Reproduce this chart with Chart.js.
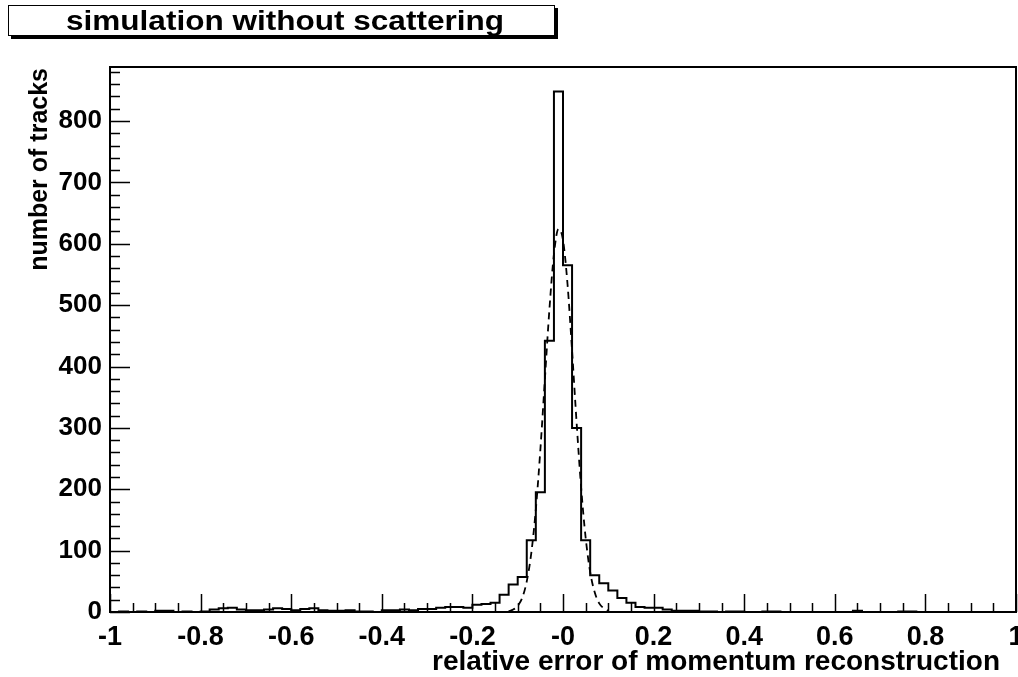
<!DOCTYPE html>
<html>
<head>
<meta charset="utf-8">
<script src="https://cdn.jsdelivr.net/npm/chart.js@4/dist/chart.umd.min.js"></script>
<style>
  html, body { margin: 0; padding: 0; background: #fff; }
  #c { display: block; }
</style>
</head>
<body>
<canvas id="c" width="1018" height="677"></canvas>
<script>
// ---------------- data ----------------
const chartTitle = 'simulation without scattering';
const xAxisTitle = 'relative error of momentum reconstruction';
const yAxisTitle = 'number of tracks';

// histogram: 100 bins of width 0.02 from -1 to 1
const binStart = -1;
const binWidth = 0.02;
const counts = [
  0, 1, 0, 1, 0, 2, 2, 0, 1, 0,
  1, 4, 6, 7, 4, 3, 3, 4, 6, 5,
  3, 5, 6, 3, 2, 2, 3, 1, 1, 0,
  3, 3, 4, 3, 5, 5, 7, 8, 8, 7,
  12, 13, 15, 28, 45, 57, 117, 195, 442, 848,
  565, 300, 117, 60, 47, 35, 23, 15, 8, 7,
  7, 4, 2, 2, 2, 1, 1, 0, 1, 1,
  0, 0, 1, 1, 0, 0, 0, 0, 0, 0,
  0, 0, 2, 0, 0, 0, 0, 1, 1, 0,
  0, 0, 0, 0, 0, 0, 0, 0, 0, 0
];

// dashed fit curve
const fitX = [-0.12, -0.11, -0.10, -0.09, -0.08, -0.07, -0.06, -0.05, -0.04, -0.03, -0.02, -0.01,
              0.00, 0.01, 0.02, 0.03, 0.04, 0.05, 0.06, 0.07, 0.08, 0.09, 0.10];
const fitY = [1, 4, 10, 23, 50, 96, 167, 264, 379, 493, 583, 624,
              606, 534, 426, 309, 203, 121, 65, 32, 14, 6, 2];

// axis ticks
const xTickValues = [-1, -0.8, -0.6, -0.4, -0.2, 0, 0.2, 0.4, 0.6, 0.8, 1];
const xTickLabels = ['-1', '-0.8', '-0.6', '-0.4', '-0.2', '-0', '0.2', '0.4', '0.6', '0.8', '1'];
const yTickValues = [0, 100, 200, 300, 400, 500, 600, 700, 800];
const yTickLabels = ['0', '100', '200', '300', '400', '500', '600', '700', '800'];

// ---------------- build ----------------
const histPoints = counts.map((v, i) => ({ x: binStart + i * binWidth, y: v }));
histPoints.push({ x: binStart + counts.length * binWidth, y: counts[counts.length - 1] });
const fitPoints = fitX.map((x, i) => ({ x: x, y: fitY[i] }));

const FONT = "'Liberation Sans', Arial, Helvetica, sans-serif";

const decor = {
  id: 'decor',
  afterDatasetsDraw(chart) {
    const ctx = chart.ctx;
    const a = chart.chartArea;
    const xs = chart.scales.x, ys = chart.scales.y;
    ctx.save();
    ctx.strokeStyle = '#000';
    ctx.lineWidth = 1.5;
    ctx.beginPath();
    // x ticks (inside, upward)
    for (let k = 0; k <= 40; k++) {
      const v = -1 + k * 0.05;
      const px = Math.round(xs.getPixelForValue(v)) + 0.5;
      const len = (k % 4 === 0) ? 18 : 9;
      ctx.moveTo(px, a.bottom);
      ctx.lineTo(px, a.bottom - len);
    }
    // y ticks (inside, rightward)
    for (let k = 0; k <= 44; k++) {
      const v = k * 20;
      if (v > ys.max) break;
      const py = Math.round(ys.getPixelForValue(v)) + 0.5;
      const len = (k % 5 === 0) ? 20 : 10;
      ctx.moveTo(a.left, py);
      ctx.lineTo(a.left + len, py);
    }
    ctx.stroke();
    // frame
    ctx.lineWidth = 2;
    ctx.strokeRect(a.left, a.top, a.right - a.left, a.bottom - a.top);
    ctx.restore();
  },
  afterDraw(chart) {
    const ctx = chart.ctx;
    ctx.save();
    // title box with shadow
    ctx.fillStyle = '#000';
    ctx.fillRect(11, 36, 547, 3);
    ctx.fillRect(555, 8, 3, 31);
    ctx.fillStyle = '#fff';
    ctx.fillRect(8, 5, 547, 31);
    ctx.strokeStyle = '#000';
    ctx.lineWidth = 1;
    ctx.strokeRect(8.5, 5.5, 546, 30);
    ctx.fillStyle = '#000';
    ctx.font = 'bold 27px ' + FONT;
    ctx.textAlign = 'center';
    ctx.textBaseline = 'alphabetic';
    const w = ctx.measureText(chartTitle).width;
    const sx = 438 / w;
    ctx.save();
    ctx.translate(285, 30);
    ctx.scale(sx, 1);
    ctx.fillText(chartTitle, 0, 0);
    ctx.restore();
    // x axis title
    ctx.font = 'bold 28px ' + FONT;
    ctx.textAlign = 'right';
    ctx.fillText(xAxisTitle, 1000, 670);
    // y axis title
    ctx.translate(47, 68);
    ctx.rotate(-Math.PI / 2);
    ctx.font = 'bold 25px ' + FONT;
    ctx.textAlign = 'right';
    ctx.fillText(yAxisTitle, 0, 0);
    ctx.restore();
  }
};

new Chart(document.getElementById('c'), {
  type: 'scatter',
  data: {
    datasets: [
      {
        label: 'tracks',
        data: histPoints,
        showLine: true,
        stepped: 'before',
        borderColor: '#000',
        borderWidth: 2,
        pointRadius: 0,
        fill: false
      },
      {
        label: 'fit',
        data: fitPoints,
        showLine: true,
        borderColor: '#000',
        borderWidth: 1.8,
        borderDash: [7, 5],
        cubicInterpolationMode: 'monotone',
        pointRadius: 0,
        fill: false
      }
    ]
  },
  options: {
    responsive: false,
    animation: false,
    devicePixelRatio: 1,
    layout: { padding: { left: 0, top: 67, right: 2, bottom: 0 } },
    plugins: {
      legend: { display: false },
      tooltip: { enabled: false },
      title: { display: false }
    },
    scales: {
      x: {
        type: 'linear',
        min: -1,
        max: 1,
        grid: { display: false, drawTicks: false },
        border: { display: false },
        afterBuildTicks: (s) => { s.ticks = xTickValues.map(v => ({ value: v })); },
        afterFit: (s) => { s.height = 65; s.paddingLeft = 0; s.paddingRight = 0; },
        ticks: {
          autoSkip: false,
          maxRotation: 0,
          padding: 9,
          color: '#000',
          font: { family: FONT, weight: 'bold', size: 27 },
          callback: (v, i) => xTickLabels[i]
        }
      },
      y: {
        type: 'linear',
        min: 0,
        max: 888,
        grid: { display: false, drawTicks: false },
        border: { display: false },
        afterBuildTicks: (s) => { s.ticks = yTickValues.map(v => ({ value: v })); },
        afterFit: (s) => { s.width = 110; s.paddingTop = 0; s.paddingBottom = 0; },
        ticks: {
          autoSkip: false,
          padding: 8,
          color: '#000',
          font: { family: FONT, weight: 'bold', size: 26 },
          callback: (v, i) => yTickLabels[i]
        }
      }
    }
  },
  plugins: [decor]
});
</script>
</body>
</html>
